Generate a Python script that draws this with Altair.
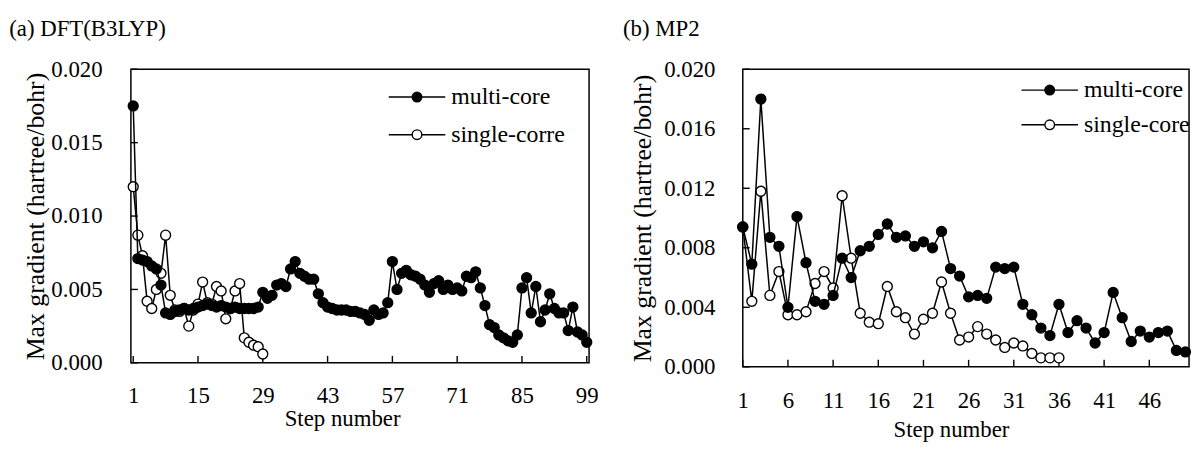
import altair as alt
import pandas as pd

FONT = "Liberation Serif"

# ---------------- data ----------------
grad_a_multi = [
    0.0175, 0.0071, 0.0070, 0.0069, 0.0066, 0.0064, 0.0053, 0.0034, 0.0033, 0.0035,
    0.0036, 0.0037, 0.0036, 0.0037, 0.0038, 0.0039, 0.0040, 0.0039, 0.0038, 0.0039,
    0.0038, 0.0037, 0.0038, 0.0037, 0.0037, 0.0037, 0.0037, 0.0038,
    0.0048, 0.0044, 0.0046, 0.0053, 0.0054, 0.0052, 0.0064, 0.0069, 0.0061, 0.0059,
    0.0057, 0.0057, 0.0047, 0.0041,
    0.0038, 0.0037, 0.0036, 0.0036, 0.0036, 0.0035, 0.0035, 0.0034, 0.0033, 0.0029,
    0.0036, 0.0033, 0.0034, 0.0041,
    0.0069, 0.0050, 0.0061, 0.0063, 0.0060, 0.0059, 0.0057, 0.0053, 0.0048, 0.0054,
    0.0056, 0.0050, 0.0053, 0.0050, 0.0051, 0.0049, 0.0059, 0.0058, 0.0062, 0.0051,
    0.0039, 0.0026, 0.0024, 0.0019, 0.0017, 0.0015, 0.0014, 0.0019, 0.0051, 0.0058,
    0.0034, 0.0052, 0.0028, 0.0036, 0.0047, 0.0037, 0.0034, 0.0034, 0.0022, 0.0038,
    0.0021, 0.0019, 0.0014,
]
grad_a_single = [
    0.0120, 0.0087, 0.0073, 0.0042, 0.0037, 0.0050, 0.0061, 0.0087, 0.0046, 0.0036,
    0.0035, 0.0037, 0.0025, 0.0036, 0.0040, 0.0055, 0.0041, 0.0040, 0.0052, 0.0049,
    0.0030, 0.0037, 0.0049, 0.0054, 0.0017, 0.0014, 0.0012, 0.0011, 0.0006,
]
grad_b_multi = [
    0.0094, 0.0069, 0.0180, 0.0087, 0.0081, 0.0040, 0.0101, 0.0070, 0.0044, 0.0042,
    0.0048, 0.0073, 0.0060, 0.0078, 0.0081, 0.0089, 0.0096, 0.0087, 0.0088, 0.0081,
    0.0084, 0.0080, 0.0091, 0.0066, 0.0061, 0.0047, 0.0048, 0.0046, 0.0067, 0.0066,
    0.0067, 0.0042, 0.0035, 0.0026, 0.0021, 0.0042, 0.0023, 0.0031, 0.0026, 0.0016,
    0.0023, 0.0050, 0.0033, 0.0017, 0.0024, 0.0020, 0.0023, 0.0024, 0.0011, 0.0010,
]
grad_b_single = [
    0.0094, 0.0044, 0.0118, 0.0048, 0.0064, 0.0035, 0.0035, 0.0037, 0.0056, 0.0064,
    0.0053, 0.0115, 0.0073, 0.0036, 0.0030, 0.0029, 0.0054, 0.0037, 0.0033, 0.0022,
    0.0032, 0.0036, 0.0057, 0.0036, 0.0018, 0.0020, 0.0027, 0.0022, 0.0018, 0.0013,
    0.0016, 0.0014, 0.0009, 0.0006, 0.0006, 0.0006,
]

series_a = ["multi-core", "single-corre"]
series_b = ["multi-core", "single-core"]

x_ticks_a = [1, 15, 29, 43, 57, 71, 85, 99]
y_ticks_a = [0.0, 0.005, 0.010, 0.015, 0.020]
x_ticks_b = [1, 6, 11, 16, 21, 26, 31, 36, 41, 46]
y_ticks_b = [0.0, 0.004, 0.008, 0.012, 0.016, 0.020]

LEGEND_PATH = ("M-1,0L-0.17,0M0.17,0L1,0"
               "M-0.17,0A0.17,0.17,0,1,1,0.17,0A0.17,0.17,0,1,1,-0.17,0Z")


def panel(multi, single, names, xdom, ydom, xt, yt, w, h, title, title_dx,
          title_offset, ylab_pad, ytitle_pad, xlab_pad, xtitle_pad, xtitle_x,
          leg_x, leg_y, leg_rowpad):
    df_single = pd.DataFrame({"step": list(range(1, len(single) + 1)),
                              "grad": single, "series": names[1]})
    df_multi = pd.DataFrame({"step": list(range(1, len(multi) + 1)),
                             "grad": multi, "series": names[0]})

    x = alt.X("step:Q",
              scale=alt.Scale(domain=xdom, nice=False, zero=False),
              axis=alt.Axis(values=xt, ticks=False, tickSize=0, domain=False,
                            grid=False, labelFont=FONT, labelFontSize=23,
                            labelColor="black", labelPadding=xlab_pad,
                            labelFlush=False, labelOverlap=False,
                            title="Step number", titleFont=FONT,
                            titleFontSize=23, titleFontWeight="normal",
                            titleColor="black", titlePadding=xtitle_pad,
                            titleX=xtitle_x))
    y = alt.Y("grad:Q",
              scale=alt.Scale(domain=ydom, nice=False, zero=True),
              axis=alt.Axis(values=yt, format=".3f", ticks=False, tickSize=0,
                            domain=False, grid=False, labelFont=FONT,
                            labelFontSize=23, labelColor="black",
                            labelPadding=ylab_pad, labelFlush=False,
                            labelOverlap=False,
                            title="Max gradient (hartree/bohr)",
                            titleFont=FONT, titleFontSize=26,
                            titleFontWeight="normal", titleColor="black",
                            titlePadding=ytitle_pad))

    fill_scale = alt.Scale(domain=names, range=["black", "white"])
    legend = alt.Legend(title=None, orient="none", legendX=leg_x,
                        legendY=leg_y, symbolType=LEGEND_PATH,
                        symbolSize=3249, symbolStrokeWidth=1.4,
                        labelFont=FONT, labelFontSize=24, labelColor="black",
                        labelOffset=5, rowPadding=leg_rowpad, padding=0,
                        clipHeight=28)

    def line_layer(d):
        return alt.Chart(d).mark_line(color="black", strokeWidth=1.5).encode(
            x=x, y=y, order="step:Q")

    def point_layer(d):
        return alt.Chart(d).mark_point(
            filled=True, stroke="black", strokeWidth=1.4, size=100, opacity=1
        ).encode(x=x, y=y,
                 fill=alt.Fill("series:N", scale=fill_scale, legend=legend))

    tick_x = alt.Chart(pd.DataFrame({"step": xt})).mark_rule(
        color="black", strokeWidth=1.4).encode(
        x=x, y=alt.value(h), y2=alt.value(h - 7))
    tick_y = alt.Chart(pd.DataFrame({"grad": yt})).mark_rule(
        color="black", strokeWidth=1.4).encode(
        y=y, x=alt.value(0), x2=alt.value(7))

    return alt.layer(
        tick_x, tick_y,
        line_layer(df_single), point_layer(df_single),
        line_layer(df_multi), point_layer(df_multi),
    ).properties(
        width=w, height=h,
        title=alt.TitleParams(title, anchor="start", frame="bounds",
                              font=FONT, fontSize=23, fontWeight="normal",
                              color="black", offset=title_offset, dx=title_dx),
    )


panel_a = panel(grad_a_multi, grad_a_single, series_a, [0.5, 99.5],
                [0.0, 0.020], x_ticks_a, y_ticks_a, 462, 296,
                "(a) DFT(B3LYP)", -14, 18, 29, 2, 22, 0, 213,
                259, 14, 10)
panel_b = panel(grad_b_multi, grad_b_single, series_b, [1, 50.4],
                [0.0, 0.020], x_ticks_b, y_ticks_b, 450, 300,
                "(b) MP2", -7, 18, 28, 8, 23, 6, 210,
                280, 7, 7)

chart = alt.hconcat(panel_a, panel_b, spacing=23).resolve_scale(
    fill="independent", x="independent", y="independent"
).properties(
    padding={"left": 8, "top": 15, "right": 0, "bottom": 0},
    background="white",
).configure_view(stroke="black", strokeWidth=1.5)

chart.save("out.html", embed_options={"renderer": "svg", "actions": False})
